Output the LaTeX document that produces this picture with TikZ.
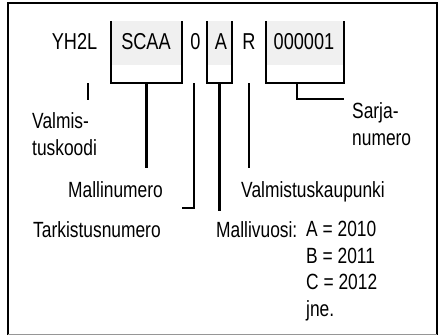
\documentclass[tikz,border=0pt]{standalone}
\usepackage{fontspec}
\setmainfont[FakeStretch=0.79]{Liberation Sans}
\definecolor{FieldGray}{RGB}{240,240,240}
\definecolor{EdgeGray}{RGB}{150,150,150}
\usetikzlibrary{positioning,calc}

\begin{document}
\begin{tikzpicture}[x=1pt,y=-1pt,
  code/.style={inner sep=0pt,anchor=base,font=\fontsize{23}{27}\selectfont},
  lbl/.style={inner sep=0pt,anchor=base west,align=left,
              font=\fontsize{22}{26.5}\selectfont},
  field/.style={inner sep=0pt,minimum height=62pt},
  bar/.style={line width=2.1pt}]
  \useasboundingbox (0,0) rectangle (439,335);
  % frame
  \draw[line width=2.2pt] (8,335) -- (8,3) -- (437,3) -- (437,335);
  \draw[EdgeGray,line width=0.8pt] (8,334.5) -- (437,334.5);
  % fields
  \node[field,minimum width=71pt](fS) at (146.5,52) {};
  \node[field,minimum width=25pt](fA) at (219.5,52) {};
  \node[field,minimum width=78pt](fN) at (305,52) {};
  \foreach \f in {fS,fA,fN}{
    \fill[FieldGray] (\f.north west) rectangle ([yshift=18pt]\f.south east);
    \draw[bar] (\f.north west) -- (\f.south west) -- (\f.south east)
               -- (\f.north east);
  }
  % code
  \node[code](yh) at (74.5,49) {YH2L};
  \node[code](scaa) at (146,49) {SCAA};
  \node[code](chk) at (195.5,49) {0};
  \node[code](yr) at (221,49) {A};
  \node[code](city) at (249,49) {R};
  \node[code](ser) at (304,49) {000001};
  % labels (base = last line)
  \node[lbl](Lmfr) at (32,155) {Valmis-\\tuskoodi};
  \node[lbl](Lser) at (352,145) {Sarja-\\numero};
  \node[lbl](Lmodel) at (68,197) {Mallinumero};
  \node[lbl](Lcity) at (241,197) {Valmistuskaupunki};
  \node[lbl](Lchk) at (33,237) {Tarkistusnumero};
  \node[lbl](Lyr) at (216,237) {Mallivuosi:};
  \node[lbl](Lyrs) at (306,316) {A = 2010\\B = 2011\\C = 2012\\jne.};
  % leaders
  \coordinate (yhTop) at (88,83);
  \coordinate (yhEnd) at (88,100);
  \coordinate (sEnd) at (146.5,168);
  \coordinate (chkTop) at (194,83);
  \coordinate (chkEnd) at (182,208);
  \coordinate (yrEnd) at (219.5,211);
  \coordinate (cityTop) at (249,83);
  \coordinate (cityEnd) at (249,168);
  \coordinate (serTop) at (297,83);
  \coordinate (serEnd) at (344,99);
  \draw[bar](yhTop) -- (yhEnd);
  \draw[bar](fS.south) -- (sEnd);
  \draw[bar](chkTop) |- (chkEnd);
  \draw[bar](fA.south) -- (yrEnd);
  \draw[bar](cityTop) -- (cityEnd);
  \draw[bar](serTop) |- (serEnd);
\end{tikzpicture}
\end{document}
